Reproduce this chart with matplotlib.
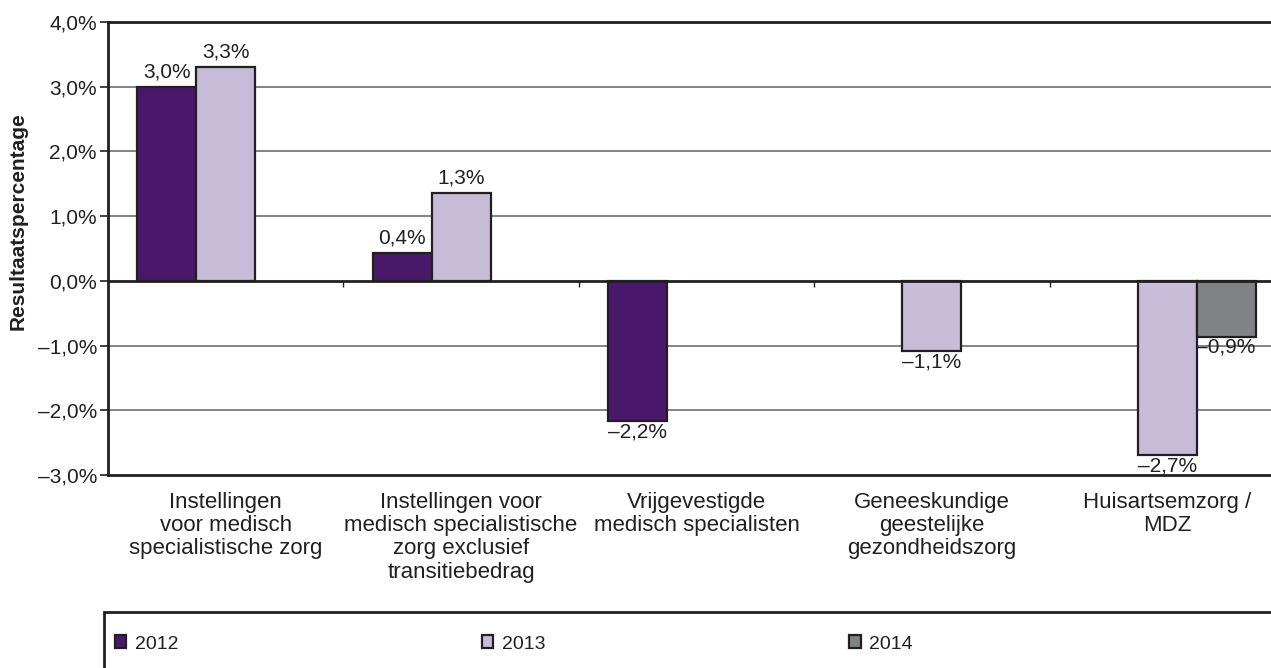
import numpy as np
import matplotlib
matplotlib.use("Agg")
import matplotlib.pyplot as plt
from matplotlib.patches import Rectangle, Patch

plt.rcParams['font.family'] = ['Liberation Sans', 'DejaVu Sans']

# data
categorieen = ["Instellingen\nvoor medisch\nspecialistische zorg",
               "Instellingen voor\nmedisch specialistische\nzorg exclusief\ntransitiebedrag",
               "Vrijgevestigde\nmedisch specialisten",
               "Geneeskundige\ngeestelijke\ngezondheidszorg",
               "Huisartsemzorg /\nMDZ"]
jaren = ["2012", "2013", "2014"]
w2012 = [3.0, 0.43, -2.17, np.nan, np.nan]
w2013 = [3.3, 1.35, np.nan, -1.08, -2.69]
w2014 = [np.nan, np.nan, np.nan, np.nan, -0.86]
lab2012 = ["3,0%", "0,4%", "\u20132,2%", "", ""]
lab2013 = ["3,3%", "1,3%", "", "\u20131,1%", "\u20132,7%"]
lab2014 = ["", "", "", "", "\u20130,9%"]
kleuren = ["#4a186b", "#c6bcd8", "#808285"]
yticks = [-3, -2, -1, 0, 1, 2, 3, 4]

fig = plt.figure(figsize=(12.71, 6.68), dpi=100)
ax = fig.add_axes([108/1271, 193/668, 1177/1271, 453/668])

x = np.arange(len(categorieen))
bw = 0.25
reeksen = [w2012, w2013, w2014]
labels = [lab2012, lab2013, lab2014]
for i in range(3):
    pos = x + (i - 1) * bw
    ax.bar(pos, reeksen[i], bw, color=kleuren[i], edgecolor="#231f20", linewidth=1.6, zorder=3)
    for p, v, t in zip(pos, reeksen[i], labels[i]):
        if np.isnan(v) or t == "":
            continue
        if v >= 0:
            ax.annotate(t, (p, v), xytext=(0, 4), textcoords="offset points",
                        ha="center", va="bottom", fontsize=15, color="#231f20")
        else:
            ax.annotate(t, (p, v), xytext=(0, -1), textcoords="offset points",
                        ha="center", va="top", fontsize=15, color="#231f20")

ax.set_xlim(-0.5, len(categorieen) - 0.5)
ax.set_ylim(-3, 4)
ax.set_yticks(yticks)
ax.set_yticklabels([("\u2013" if t < 0 else "") + "%d,0%%" % abs(t) for t in yticks], fontsize=15)
for t in yticks:
    if t in (-3, 0, 4):
        continue
    ax.axhline(t, color="#6d6e71", linewidth=1.2, zorder=1)
ax.axhline(0, color="#231f20", linewidth=2, zorder=4)
# tickjes op de nullijn tussen de groepen
grenzen = x[:-1] + 0.5
ax.vlines(grenzen, -0.1, 0, color="#231f20", linewidth=1, zorder=4)

ax.set_xticks(x)
ax.set_xticklabels(categorieen, fontsize=16, color="#231f20", linespacing=1.15)
ax.tick_params(axis="x", length=0, pad=12)
ax.tick_params(axis="y", length=6, width=1.2, color="#231f20", pad=2, labelcolor="#231f20")
for s in ["left", "top", "bottom"]:
    ax.spines[s].set_linewidth(2)
    ax.spines[s].set_color("#231f20")
ax.spines["right"].set_visible(False)

ax.set_ylabel("Resultaatspercentage", fontsize=15, fontweight="bold", color="#231f20")
ax.yaxis.set_label_coords(-0.068, 0.56)

# legenda
fig.patches.append(Rectangle((104/1271, -0.1), 1.1, (668-612)/668 + 0.1, transform=fig.transFigure,
                             fill=False, edgecolor="#231f20", linewidth=2))
handles = [Patch(facecolor=kleuren[i], edgecolor="#231f20", linewidth=1.6, label=jaren[i]) for i in range(3)]
fig.legend(handles=handles, loc="center left", bbox_to_anchor=(97/1271, (668-644)/668),
           ncol=3, frameon=False, fontsize=14, handlelength=0.6, handleheight=0.6,
           columnspacing=15.6, handletextpad=0.45, labelcolor="#231f20")

fig.savefig("out.png", dpi=100)
